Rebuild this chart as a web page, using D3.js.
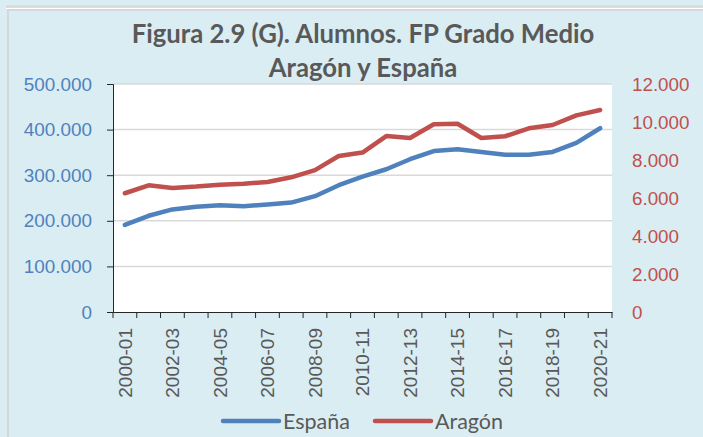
<!DOCTYPE html>
<html>
<head>
<meta charset="utf-8">
<script src="https://cdn.jsdelivr.net/npm/d3@7"></script>
<style>
  body { margin: 0; background: #daedf3; }
  svg { display: block; font-family: Lato, "Open Sans", sans-serif; }
</style>
</head>
<body>
<svg class="chart" width="703" height="437"></svg>
<script>
"use strict";

let cursos = ['2000-01', '2001-02', '2002-03', '2003-04', '2004-05', '2005-06', '2006-07',
  '2007-08', '2008-09', '2009-10', '2010-11', '2011-12', '2012-13', '2013-14', '2014-15',
  '2015-16', '2016-17', '2017-18', '2018-19', '2019-20', '2020-21'];

// eje izquierdo
let espana = [191000, 211000, 225000, 231000, 234000, 232000, 236000, 240000, 254000,
  278000, 297000, 313000, 335000, 353000, 357000, 351000, 345000, 345000, 351000, 371000, 403000];

// eje derecho
let aragon = [6250, 6670, 6530, 6600, 6700, 6750, 6840, 7090, 7470, 8210, 8390, 9260,
  9160, 9880, 9910, 9160, 9250, 9670, 9840, 10350, 10630];

let leftTicks = [0, 100000, 200000, 300000, 400000, 500000];
let rightTicks = [0, 2000, 4000, 6000, 8000, 10000, 12000];

let blue = '#4f81bd';
let red = '#c0504d';
let grey = '#595959';

let svg = d3.select('.chart');

// marco de arriba y borde del grafico
svg.append('line').attr('x1', 6).attr('x2', 703).attr('y1', 6.5).attr('y2', 6.5)
  .attr('stroke', '#d4d8da').attr('stroke-width', 2);
svg.append('line').attr('x1', 6).attr('x2', 703).attr('y1', 8.5).attr('y2', 8.5)
  .attr('stroke', '#ffffff').attr('stroke-width', 1);
svg.append('line').attr('x1', 7).attr('x2', 703).attr('y1', 10).attr('y2', 10)
  .attr('stroke', '#d4d8da').attr('stroke-width', 2);
svg.append('line').attr('x1', 8).attr('x2', 8).attr('y1', 9).attr('y2', 437)
  .attr('stroke', '#d4d8da').attr('stroke-width', 2);

let plotLeft = 113, plotRight = 612, plotTop = 84, plotBottom = 312;

let x = d3.scaleBand().domain(cursos).range([plotLeft, plotRight]);
let yL = d3.scaleLinear().domain([0, 500000]).range([plotBottom, plotTop]);
let yR = d3.scaleLinear().domain([0, 12000]).range([plotBottom, plotTop]);

let fmt = v => d3.format(',')(v).replace(/,/g, '.');

svg.append('rect')
  .attr('x', plotLeft).attr('y', plotTop)
  .attr('width', plotRight - plotLeft).attr('height', plotBottom - plotTop)
  .attr('fill', '#ffffff');

// lineas de division
svg.append('g')
  .selectAll('line')
  .data(leftTicks.slice(1))
  .enter()
  .append('line')
  .attr('x1', plotLeft).attr('x2', plotRight)
  .attr('y1', d => yL(d)).attr('y2', d => yL(d))
  .attr('stroke', '#d9d9d9')
  .attr('stroke-width', 1.5);

// eje izquierdo
let axL = svg.append('g')
  .attr('transform', 'translate(' + plotLeft + ',0)')
  .call(d3.axisLeft(yL).tickValues(leftTicks).tickSize(6).tickPadding(15).tickFormat(fmt));
axL.select('.domain').attr('stroke', '#262626');
axL.selectAll('.tick line').attr('stroke', '#262626');
axL.selectAll('text').attr('fill', blue).attr('font-size', 18.9);

// eje derecho, solo etiquetas
let axR = svg.append('g')
  .attr('transform', 'translate(' + plotRight + ',0)')
  .call(d3.axisRight(yR).tickValues(rightTicks).tickSize(0).tickPadding(20).tickFormat(fmt));
axR.select('.domain').remove();
axR.selectAll('text').attr('fill', red).attr('font-size', 18.8);

// eje x
let axX = svg.append('g')
  .attr('transform', 'translate(0,' + plotBottom + ')')
  .call(d3.axisBottom(x).tickSize(0).tickFormat((d, i) => i % 2 === 0 ? d : ''));
axX.select('.domain').attr('stroke', '#262626');
axX.selectAll('text')
  .attr('fill', grey)
  .attr('font-size', 19)
  .attr('text-anchor', 'end')
  .attr('transform', 'translate(0,16) rotate(-90)')
  .attr('x', 0).attr('y', 0).attr('dy', '0.35em');

// marcas entre categorias
svg.append('g')
  .selectAll('line')
  .data(cursos.map(c => x(c)).concat([plotRight]))
  .enter()
  .append('line')
  .attr('x1', d => d).attr('x2', d => d)
  .attr('y1', plotBottom).attr('y2', plotBottom + 6)
  .attr('stroke', '#262626');

let lineL = d3.line()
  .x((d, i) => x(cursos[i]) + x.bandwidth() / 2)
  .y(d => yL(d));
let lineR = d3.line()
  .x((d, i) => x(cursos[i]) + x.bandwidth() / 2)
  .y(d => yR(d));

svg.append('path')
  .datum(espana)
  .attr('d', lineL)
  .attr('fill', 'none')
  .attr('stroke', blue)
  .attr('stroke-width', 4.5)
  .attr('stroke-linecap', 'round')
  .attr('stroke-linejoin', 'round');

svg.append('path')
  .datum(aragon)
  .attr('d', lineR)
  .attr('fill', 'none')
  .attr('stroke', red)
  .attr('stroke-width', 4.5)
  .attr('stroke-linecap', 'round')
  .attr('stroke-linejoin', 'round');

// titulo
let title = svg.append('text')
  .attr('text-anchor', 'middle')
  .attr('fill', grey)
  .attr('font-weight', 'bold')
  .attr('font-size', 25.7);
title.append('tspan').attr('x', 363).attr('y', 43).text('Figura 2.9 (G). Alumnos. FP Grado Medio');
title.append('tspan').attr('x', 363).attr('y', 77).text('Aragón y España');

// leyenda
let legend = [
  { name: 'España', color: blue, x: 223 },
  { name: 'Aragón', color: red, x: 375 }
];
let lg = svg.append('g')
  .selectAll('g')
  .data(legend)
  .enter()
  .append('g')
  .attr('transform', d => 'translate(' + d.x + ',421)');
lg.append('line')
  .attr('x1', 0).attr('x2', 56)
  .attr('stroke', d => d.color)
  .attr('stroke-width', 4.5)
  .attr('stroke-linecap', 'round');
lg.append('text')
  .attr('x', 60)
  .attr('dy', '0.35em')
  .attr('fill', grey)
  .attr('font-size', 21.5)
  .text(d => d.name);
</script>
</body>
</html>
